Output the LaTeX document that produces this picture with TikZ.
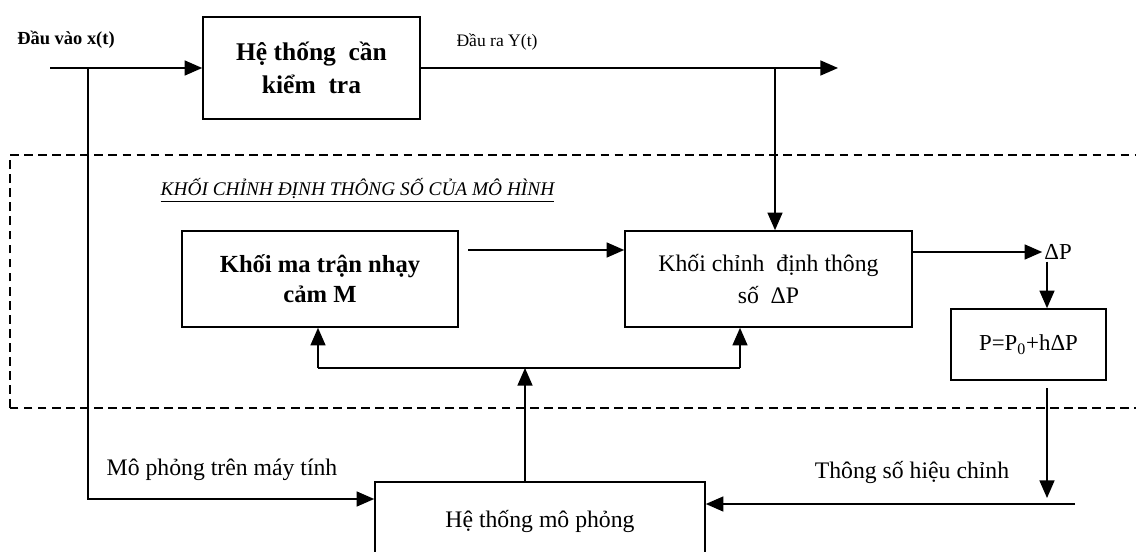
\documentclass[tikz,border=0pt]{standalone}
\usepackage{fontspec}
\setmainfont{Liberation Serif}
\usetikzlibrary{arrows.meta}
\tikzset{
  block/.style={draw, line width=0.9pt, align=center, inner sep=2pt,
                font=\fontsize{13.5}{18}\selectfont},
  boldblock/.style={block, font=\fontsize{14}{17}\selectfont\bfseries},
  bigblock/.style={block, font=\fontsize{14.5}{19}\selectfont\bfseries},
  lbl/.style={inner sep=1pt, font=\fontsize{13.5}{16}\selectfont},
  wire/.style={line width=0.9pt},
  sig/.style={wire, -{Triangle[length=10pt, width=8.5pt]}},
  zone/.style={line width=0.9pt, dash pattern=on 5pt off 3pt},
}
\begin{document}
\begin{tikzpicture}
    \clip (0,0) rectangle (22.72,11.02);
    % region of the parameter fitting block
    \draw[zone] (0.2,2.86) rectangle (23.2,7.92);
    \node[bigblock, minimum width=4.34cm, minimum height=2.04cm] (sys) at (6.23,9.66) {Hệ thống\ \ cần\\kiểm\ \ tra};
    \node[boldblock, minimum width=5.52cm, minimum height=1.92cm] (sens) at (6.4,5.44) {Khối ma trận nhạy\\cảm M};
    \node[block, minimum width=5.74cm, minimum height=1.92cm] (adj) at (15.37,5.44) {Khối chỉnh\ \ định thông\\số\ \ ΔP};
    \node[block, minimum width=3.1cm, minimum height=1.42cm, font=\fontsize{13}{16}\selectfont] (upd) at (20.57,4.13) {P=P\textsubscript{0}+hΔP};
    \node[block, minimum width=6.6cm, minimum height=1.56cm] (sim) at (10.8,0.6) {Hệ thống mô phỏng};
    % labels
    \node[lbl, font=\fontsize{10.5}{12}\selectfont\bfseries] (inlbl) at (1.32,10.22) {Đầu vào x(t)};
    \node[lbl, font=\fontsize{10}{12}\selectfont] (outlbl) at (9.94,10.18) {Đầu ra Y(t)};
    \node[lbl, font=\fontsize{11}{13}\selectfont\itshape] (title) at (7.15,7.22) {\underline{KHỐI CHỈNH ĐỊNH THÔNG SỐ CỦA MÔ HÌNH}};
    \node[lbl, font=\fontsize{13}{16}\selectfont] (dP) at (21.16,5.98) {ΔP};
    \node[lbl] (simlbl) at (4.44,1.62) {Mô phỏng trên máy tính};
    \node[lbl] (corrlbl) at (18.24,1.58) {Thông số hiệu chỉnh};
    % line ends
    \coordinate (in) at (1.0,9.66);
    \coordinate (br) at (1.76,9.66);
    \coordinate (out) at (16.76,9.66);
    \coordinate (ob) at (15.5,9.66);
    \coordinate (mk) at (9.36,6.02);
    \coordinate (fbL) at (6.36,3.66);
    \coordinate (fbR) at (14.8,3.66);
    \coordinate (pd) at (20.94,1.06);
    \coordinate (rt) at (21.5,0.94);
    % connectors
    \draw[sig] (in) -- (sys.west);
    \draw[sig] (br) |- ([yshift=0.44cm]sim.west);
    \draw[sig] (sys.east) -- (out);
    \draw[sig] (ob) -- (ob |- adj.north);
    \draw[sig] (mk) -- (mk -| adj.west);
    \draw[sig] (adj.east |- dP) -- (dP.west);
    \draw[sig] (dP.south -| pd) -- (pd |- upd.north);
    \draw[sig] ([yshift=-0.15cm]upd.south -| pd) -- (pd);
    \draw[sig] (rt) -- (rt -| sim.east);
    \draw[sig] ([xshift=-0.3cm]sim.north) -- ([xshift=-0.3cm]sim.north |- fbL);
    \draw[wire] (fbL) -- (fbR);
    \draw[sig] (fbL) -- (fbL |- sens.south);
    \draw[sig] (fbR) -- (fbR |- adj.south);
  \end{tikzpicture}
\end{document}
